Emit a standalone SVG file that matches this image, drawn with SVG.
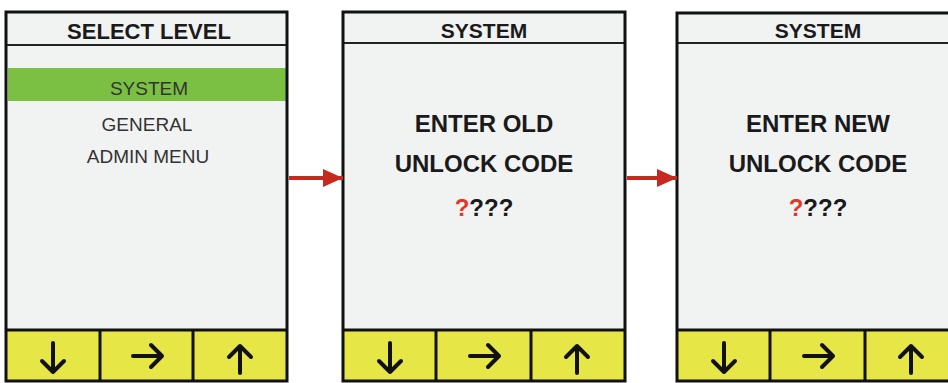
<svg xmlns="http://www.w3.org/2000/svg" width="948" height="383" viewBox="0 0 948 383">
  <style>
    .body { fill: #f1f2f2; stroke: none; }
    .frame { fill: none; stroke: #111; stroke-width: 3; }
    .hdiv { stroke: #222; stroke-width: 2; }
    .bar { fill: #e6e647; stroke: none; }
    .bdiv { stroke: #111; stroke-width: 3; }
    .title { font-family: "Liberation Sans", Arial, sans-serif; font-weight: bold; fill: #1a1a1a; text-anchor: middle; }
    .item { font-family: "Liberation Sans", Arial, sans-serif; font-size: 19px; fill: #333; text-anchor: middle; }
    .big { font-family: "Liberation Sans", Arial, sans-serif; font-weight: bold; font-size: 24px; fill: #1a1a1a; text-anchor: middle; }
    .key { fill: none; stroke: #111; stroke-width: 4; stroke-linecap: round; stroke-linejoin: round; }
    .conn { stroke: #c62a1f; stroke-width: 4; fill: none; }
  </style>
  <defs>
    <marker id="ah" markerUnits="userSpaceOnUse" markerWidth="22" markerHeight="20" refX="20" refY="9" orient="auto">
      <polygon points="0,0 20,9 0,18" fill="#c62a1f"/>
    </marker>
    <g id="keys">
      <path class="key" d="M47,343 V372 M36,361 L47,372 L58,361"/>
      <path class="key" d="M127,356 H156 M145,345 L156,356 L145,367"/>
      <path class="key" d="M234,373 V346 M223,357 L234,346 L245,357"/>
    </g>
  </defs>
  <rect width="948" height="383" fill="#ffffff"/>

  <g id="screen-select-level">
    <rect class="body" x="6" y="12" width="281" height="370"/>
    <rect x="8" y="68" width="279" height="33" fill="#7cc043"/>
    <line class="hdiv" x1="6" y1="45" x2="287" y2="45"/>
    <rect class="bar" x="6" y="330" width="281" height="52"/>
    <line class="bdiv" x1="6" y1="330" x2="287" y2="330"/>
    <line class="bdiv" x1="100" y1="330" x2="100" y2="382"/>
    <line class="bdiv" x1="193" y1="330" x2="193" y2="382"/>
    <rect class="frame" x="6" y="12" width="281" height="369"/>
    <text class="title" x="149" y="39" font-size="22">SELECT LEVEL</text>
    <text class="item" x="149" y="95">SYSTEM</text>
    <text class="item" x="147" y="131">GENERAL</text>
    <text class="item" x="148" y="163">ADMIN MENU</text>
    <use href="#keys" transform="translate(6,0)"/>
  </g>

  <g id="screen-enter-old">
    <rect class="body" x="343" y="12" width="282" height="370"/>
    <line class="hdiv" x1="343" y1="43" x2="625" y2="43"/>
    <rect class="bar" x="343" y="330" width="282" height="52"/>
    <line class="bdiv" x1="343" y1="330" x2="625" y2="330"/>
    <line class="bdiv" x1="436" y1="330" x2="436" y2="382"/>
    <line class="bdiv" x1="531" y1="330" x2="531" y2="382"/>
    <rect class="frame" x="343" y="12" width="282" height="369"/>
    <text class="title" x="484" y="38" font-size="21">SYSTEM</text>
    <text class="big" x="484" y="132">ENTER OLD</text>
    <text class="big" x="484" y="172">UNLOCK CODE</text>
    <text class="big" x="484" y="216"><tspan fill="#e0392a">?</tspan>???</text>
    <use href="#keys" transform="translate(343,0)"/>
  </g>

  <g id="screen-enter-new">
    <rect class="body" x="677" y="13" width="282" height="369"/>
    <line class="hdiv" x1="677" y1="43" x2="959" y2="43"/>
    <rect class="bar" x="677" y="330" width="282" height="52"/>
    <line class="bdiv" x1="677" y1="330" x2="959" y2="330"/>
    <line class="bdiv" x1="770" y1="330" x2="770" y2="382"/>
    <line class="bdiv" x1="865" y1="330" x2="865" y2="382"/>
    <rect class="frame" x="677" y="13" width="282" height="368"/>
    <text class="title" x="818" y="38" font-size="21">SYSTEM</text>
    <text class="big" x="818" y="132">ENTER NEW</text>
    <text class="big" x="818" y="172">UNLOCK CODE</text>
    <text class="big" x="818" y="216"><tspan fill="#e0392a">?</tspan>???</text>
    <use href="#keys" transform="translate(677,0)"/>
  </g>

  <g id="connectors">
    <line class="conn" x1="289" y1="178" x2="343" y2="178" marker-end="url(#ah)"/>
    <line class="conn" x1="627" y1="178" x2="677" y2="178" marker-end="url(#ah)"/>
  </g>
</svg>
